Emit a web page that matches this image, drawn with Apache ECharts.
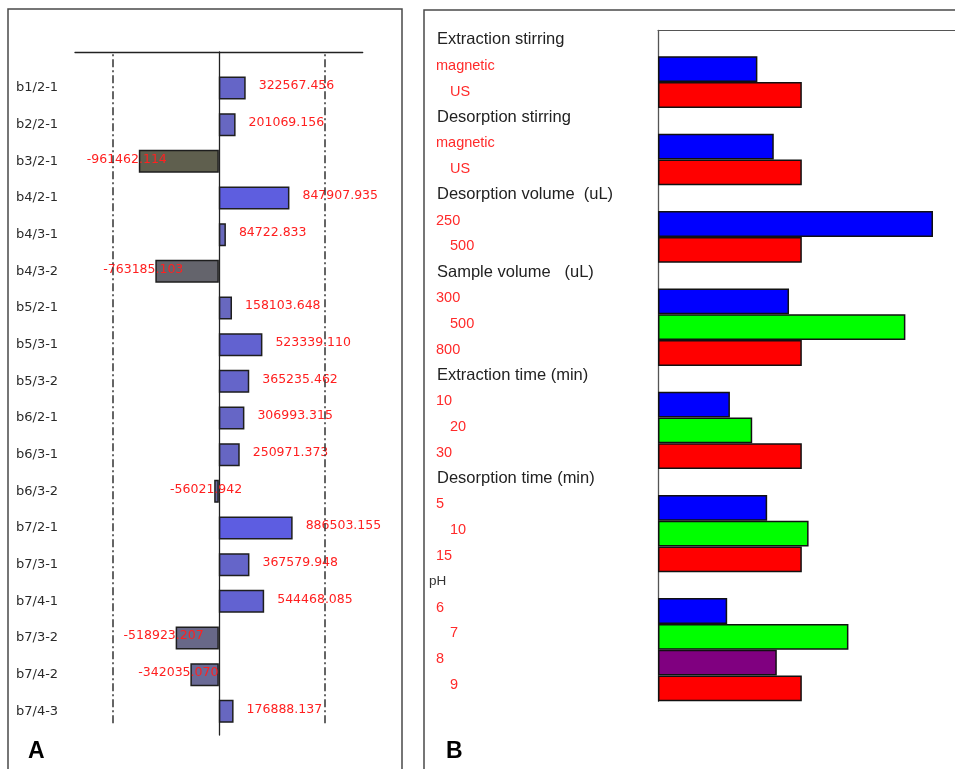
<!DOCTYPE html>
<html>
<head>
<meta charset="utf-8">
<script src="https://cdn.jsdelivr.net/npm/echarts@6/dist/echarts.min.js"></script>
<style>
  html, body { margin: 0; padding: 0; background: #ffffff; }
  #chart { width: 955px; height: 769px; }
</style>
</head>
<body>
<div id="chart"></div>
<script>
// ---- Panel A: coefficient estimates of the model terms ----
const termLabels = ['b1/2-1', 'b2/2-1', 'b3/2-1', 'b4/2-1', 'b4/3-1', 'b4/3-2', 'b5/2-1', 'b5/3-1', 'b5/3-2',
  'b6/2-1', 'b6/3-1', 'b6/3-2', 'b7/2-1', 'b7/3-1', 'b7/4-1', 'b7/3-2', 'b7/4-2', 'b7/4-3'];
const termEffects = [322567.456, 201069.156, -961462.114, 847907.935, 84722.833, -763185.103, 158103.648,
  523339.110, 365235.462, 306993.315, 250971.373, -56021.942, 886503.155, 367579.948, 544468.085,
  -518923.207, -342035.070, 176888.137];
const effectLimit = 1270000;     // dash-dot reference lines (+/-)
const effectAxisMax = 1728000;   // half-width of the effect axis

// ---- Panel B: relative response for each factor level ----
const factorNames = ['Extraction stirring', 'Desorption stirring', 'Desorption volume  (uL)',
  'Sample volume   (uL)', 'Extraction time (min)', 'Desorption time (min)', 'pH'];
const factorLevels = [['magnetic', 'US'], ['magnetic', 'US'], ['250', '500'], ['300', '500', '800'],
  ['10', '20', '30'], ['5', '10', '15'], ['6', '7', '8', '9']];
const factorResponse = [[69.1, 100], [80.5, 100], [191.2, 100], [91.1, 172.0, 100], [50.0, 65.5, 100],
  [75.9, 104.7, 100], [48.1, 132.4, 82.6, 100]];
const responseAxisMax = 206.5;

// Flatten panel B into slots: one header slot per factor, then one slot per level
const slotText = [], slotValue = [], slotKind = [], slotColor = [];
const levelColors = ['#0000ff', '#00ff00', '#800080'];
factorNames.forEach((name, g) => {
  slotText.push(name);
  slotValue.push(null);
  slotKind.push(name === 'pH' ? 'hs' : 'h');
  slotColor.push(null);
  const levels = factorLevels[g];
  levels.forEach((lv, i) => {
    slotText.push(lv);
    slotValue.push(factorResponse[g][i]);
    slotKind.push(i % 2 === 0 ? 'lv' : 'li');
    slotColor.push(i === levels.length - 1 ? '#ff0000' : levelColors[i]);
  });
});

// Fill shade of panel A bars depends on sign and magnitude
const maxAbs = Math.max(...termEffects.map(Math.abs));
function mix(a, b, t) {
  const c = a.map((v, i) => Math.round(v + (b[i] - v) * t));
  return 'rgb(' + c.join(',') + ')';
}
function effectColor(v) {
  const t = Math.min(1, Math.abs(v) / maxAbs);
  return v >= 0 ? mix([106, 106, 184], [92, 92, 228], t) : mix([108, 108, 160], [95, 95, 78], t * t);
}

const chart = echarts.init(document.getElementById('chart'), null, { renderer: 'canvas' });

const noTicks = { axisTick: { show: false }, axisLabel: { show: false }, splitLine: { show: false } };

const option = {
  animation: false,
  backgroundColor: '#ffffff',
  grid: [
    { left: 75, top: 52, width: 287.7, height: 683 },        // A: frame (top rule + zero line)
    { left: 75, top: 52, width: 287.7, height: 671.3 },      // A: reference lines
    { left: 75, top: 69.7, width: 287.7, height: 660 },      // A: bars
    { left: 658, top: 30.5, right: 0, height: 670.8 }        // B: bars
  ],
  xAxis: [
    Object.assign({ type: 'value', gridIndex: 0, min: -effectAxisMax, max: effectAxisMax, position: 'top',
      axisLine: { show: true, onZero: false, lineStyle: { color: '#222', width: 1.3 } } }, noTicks),
    { type: 'value', gridIndex: 1, min: -effectAxisMax, max: effectAxisMax, show: false },
    { type: 'value', gridIndex: 2, min: -effectAxisMax, max: effectAxisMax, show: false },
    Object.assign({ type: 'value', gridIndex: 3, min: 0, max: responseAxisMax, position: 'top',
      axisLine: { show: true, onZero: false, lineStyle: { color: '#555', width: 1 } } }, noTicks)
  ],
  yAxis: [
    Object.assign({ type: 'value', gridIndex: 0, min: 0, max: 1,
      axisLine: { show: true, onZero: true, lineStyle: { color: '#222', width: 1.3 } } }, noTicks),
    { type: 'value', gridIndex: 1, min: 0, max: 1, show: false },
    {
      type: 'category', gridIndex: 2, inverse: true, data: termLabels,
      axisLine: { show: false, onZero: false }, axisTick: { show: false }, splitLine: { show: false },
      axisLabel: {
        align: 'left', margin: 59, color: '#2a2a2a', fontFamily: 'DejaVu Sans', fontSize: 13,
        padding: [0, 0, 4, 0]
      }
    },
    {
      type: 'category', gridIndex: 3, inverse: true, data: slotText,
      axisLine: { show: true, onZero: false, lineStyle: { color: '#555', width: 1.3 } },
      axisTick: { show: false }, splitLine: { show: false },
      axisLabel: {
        align: 'left', margin: 229, interval: 0, padding: [0, 0, 7, 0],
        formatter: (val, idx) => '{' + slotKind[idx] + '|' + val + '}',
        rich: {
          h: { fontFamily: 'Liberation Sans', fontSize: 16.5, color: '#222', padding: [0, 0, 0, 8] },
          hs: { fontFamily: 'Liberation Sans', fontSize: 13.5, color: '#333' },
          lv: { fontFamily: 'Liberation Sans', fontSize: 14.5, color: '#ff2a2a', padding: [0, 0, 0, 7] },
          li: { fontFamily: 'Liberation Sans', fontSize: 14.5, color: '#ff2a2a', padding: [0, 0, 0, 21] }
        }
      }
    }
  ],
  series: [
    { type: 'line', xAxisIndex: 0, yAxisIndex: 0, data: [], silent: true },
    {
      type: 'bar', xAxisIndex: 1, yAxisIndex: 1, data: [], silent: true,
      markLine: {
        silent: true, symbol: 'none', label: { show: false },
        lineStyle: { color: '#333', width: 1.5, type: [8, 3, 2, 3] },
        data: [{ xAxis: -effectLimit }, { xAxis: effectLimit }]
      }
    },
    {
      type: 'bar', xAxisIndex: 2, yAxisIndex: 2, barWidth: 23,
      data: termEffects.map(v => ({
        value: v,
        label: v < 0 ? { position: 'left', distance: -28 } : { position: 'right', distance: 13 }
      })),
      itemStyle: {
        color: p => effectColor(p.value),
        borderColor: '#1e1e1e', borderWidth: 1.5
      },
      label: {
        show: true, color: '#ff2020', fontFamily: 'DejaVu Sans', fontSize: 12.5, offset: [0, -2],
        formatter: p => p.value.toFixed(3)
      }
    },
    {
      type: 'bar', xAxisIndex: 3, yAxisIndex: 3, barCategoryGap: '0%',
      data: slotValue,
      itemStyle: {
        color: p => slotColor[p.dataIndex] || '#ffffff',
        borderColor: '#111', borderWidth: 1.5
      }
    }
  ],
  graphic: [
    { type: 'rect', shape: { x: 8, y: 9, width: 394, height: 800 }, silent: true,
      style: { fill: null, stroke: '#4a4a4a', lineWidth: 1.5 } },
    { type: 'rect', shape: { x: 424, y: 10, width: 600, height: 800 }, silent: true,
      style: { fill: null, stroke: '#4a4a4a', lineWidth: 1.5 } },
    { type: 'text', x: 28, y: 752, silent: true,
      style: { text: 'A', fontFamily: 'Liberation Sans', fontWeight: 'bold', fontSize: 23, fill: '#000',
        verticalAlign: 'middle' } },
    { type: 'text', x: 446, y: 752, silent: true,
      style: { text: 'B', fontFamily: 'Liberation Sans', fontWeight: 'bold', fontSize: 23, fill: '#000',
        verticalAlign: 'middle' } }
  ]
};

chart.setOption(option);
</script>
</body>
</html>
